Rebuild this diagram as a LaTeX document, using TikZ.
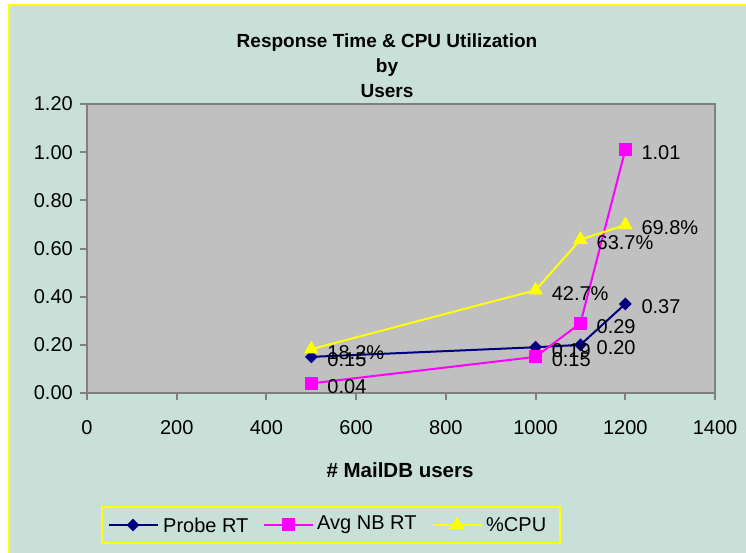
\documentclass[tikz,border=0pt]{standalone}
\usepackage{fontspec}
\setmainfont{Liberation Sans}
\usetikzlibrary{positioning,shapes.geometric}

\definecolor{chartbg}{HTML}{C8E0D8}
\definecolor{plotbg}{HTML}{C0C0C0}
\definecolor{axisgray}{HTML}{808080}
\definecolor{cpuyellow}{HTML}{FFFF00}
\definecolor{nbmagenta}{HTML}{FF00FF}
\definecolor{rtnavy}{HTML}{000080}

\begin{document}
\begin{tikzpicture}[x=1pt, y=1pt,
  numtext/.style={inner sep=0pt, font=\fontsize{20}{24}\selectfont},
  datalabel/.style={numtext, yshift=-3pt},
  titletext/.style={inner sep=0pt, anchor=base, font=\bfseries\fontsize{19}{23}\selectfont},
  axistitle/.style={titletext, font=\bfseries\fontsize{20.5}{24}\selectfont},
  axisline/.style={draw=axisgray, line width=2pt},
  rtline/.style={draw=rtnavy, line width=2pt},
  nbline/.style={draw=nbmagenta, line width=2pt},
  cpuline/.style={draw=cpuyellow, line width=2pt},
  rtmark/.style={diamond, fill=rtnavy, inner sep=0pt, minimum size=13pt},
  nbmark/.style={rectangle, fill=nbmagenta, inner sep=0pt, minimum size=13pt},
  cpumark/.style={regular polygon, regular polygon sides=3, fill=cpuyellow, inner sep=0pt, minimum size=17pt}]

\useasboundingbox (0,0) rectangle (746,553);
\fill[chartbg] (9,0) rectangle (746,548);
\draw[cpuyellow, line width=2pt] (9,0) -- (9,548) -- (746,548);

\node[titletext] (title1) at (387,505) {Response Time \& CPU Utilization};
\node[titletext] (title2) at (387,480) {by};
\node[titletext] (title3) at (387,455) {Users};

\fill[plotbg] (87,160) rectangle (715,449);
\draw[axisline] (87,160) rectangle (715,449);

\begin{scope}[shift={(87pt,160pt)}, x=0.448571pt, y=240.8pt]
\draw[axisline] (0,0) -- (-15.6,0) (0,0.2) -- (-15.6,0.2) (0,0.4) -- (-15.6,0.4)
  (0,0.6) -- (-15.6,0.6) (0,0.8) -- (-15.6,0.8) (0,1) -- (-15.6,1) (0,1.2) -- (-15.6,1.2);
\draw[axisline] (0,0) -- (0,-0.03) (200,0) -- (200,-0.03) (400,0) -- (400,-0.03)
  (600,0) -- (600,-0.03) (800,0) -- (800,-0.03) (1000,0) -- (1000,-0.03)
  (1200,0) -- (1200,-0.03) (1400,0) -- (1400,-0.03);

\node[numtext, anchor=east, xshift=-14pt] (ylab0) at (0,0) {0.00};
\node[numtext, anchor=east, xshift=-14pt] (ylab1) at (0,0.2) {0.20};
\node[numtext, anchor=east, xshift=-14pt] (ylab2) at (0,0.4) {0.40};
\node[numtext, anchor=east, xshift=-14pt] (ylab3) at (0,0.6) {0.60};
\node[numtext, anchor=east, xshift=-14pt] (ylab4) at (0,0.8) {0.80};
\node[numtext, anchor=east, xshift=-14pt] (ylab5) at (0,1) {1.00};
\node[numtext, anchor=east, xshift=-14pt] (ylab6) at (0,1.2) {1.20};

\node[numtext, anchor=base, yshift=-42pt] (xlab0) at (0,0) {0};
\node[numtext, anchor=base, yshift=-42pt] (xlab1) at (200,0) {200};
\node[numtext, anchor=base, yshift=-42pt] (xlab2) at (400,0) {400};
\node[numtext, anchor=base, yshift=-42pt] (xlab3) at (600,0) {600};
\node[numtext, anchor=base, yshift=-42pt] (xlab4) at (800,0) {800};
\node[numtext, anchor=base, yshift=-42pt] (xlab5) at (1000,0) {1000};
\node[numtext, anchor=base, yshift=-42pt] (xlab6) at (1200,0) {1200};
\node[numtext, anchor=base, yshift=-42pt] (xlab7) at (1400,0) {1400};

\coordinate (rt1) at (500,0.15);
\coordinate (rt2) at (1000,0.19);
\coordinate (rt3) at (1100,0.20);
\coordinate (rt4) at (1200,0.37);
\coordinate (nb1) at (500,0.04);
\coordinate (nb2) at (1000,0.15);
\coordinate (nb3) at (1100,0.29);
\coordinate (nb4) at (1200,1.01);
\coordinate (cpu1) at (500,0.182);
\coordinate (cpu2) at (1000,0.427);
\coordinate (cpu3) at (1100,0.637);
\coordinate (cpu4) at (1200,0.698);
\end{scope}

\draw[rtline] (rt1) -- (rt2) -- (rt3) -- (rt4);
\node[rtmark] (rt1m) at (rt1) {};
\node[rtmark] (rt2m) at (rt2) {};
\node[rtmark] (rt3m) at (rt3) {};
\node[rtmark] (rt4m) at (rt4) {};

\draw[nbline] (nb1) -- (nb2) -- (nb3) -- (nb4);
\node[nbmark] (nb1m) at (nb1) {};
\node[nbmark] (nb2m) at (nb2) {};
\node[nbmark] (nb3m) at (nb3) {};
\node[nbmark] (nb4m) at (nb4) {};

\draw[cpuline] (cpu1) -- (cpu2) -- (cpu3) -- (cpu4);
\node[cpumark] (cpu1m) at (cpu1) {};
\node[cpumark] (cpu2m) at (cpu2) {};
\node[cpumark] (cpu3m) at (cpu3) {};
\node[cpumark] (cpu4m) at (cpu4) {};

\node[datalabel, right=16pt of rt1] (rt1l) {0.15};
\node[datalabel, right=16pt of rt2] (rt2l) {0.19};
\node[datalabel, right=16pt of rt3] (rt3l) {0.20};
\node[datalabel, right=16pt of rt4] (rt4l) {0.37};
\node[datalabel, right=16pt of nb1] (nb1l) {0.04};
\node[datalabel, right=16pt of nb2] (nb2l) {0.15};
\node[datalabel, right=16pt of nb3] (nb3l) {0.29};
\node[datalabel, right=16pt of nb4] (nb4l) {1.01};
\node[datalabel, right=16pt of cpu1] (cpu1l) {18.2\%};
\node[datalabel, right=16pt of cpu2] (cpu2l) {42.7\%};
\node[datalabel, right=16pt of cpu3] (cpu3l) {63.7\%};
\node[datalabel, right=16pt of cpu4] (cpu4l) {69.8\%};

\node[axistitle] (xtitle) at (400,75) {\# MailDB users};

\node[draw=cpuyellow, line width=2.5pt, minimum width=458pt, minimum height=36pt, inner sep=0pt] (legend) at (331,28) {};
\coordinate (keyrt) at (133,28);
\coordinate (keynb) at (288,28);
\coordinate (keycpu) at (457,28);
\draw[rtline] ([xshift=-24pt]keyrt) -- ([xshift=25pt]keyrt);
\node[rtmark] (keyrtm) at (keyrt) {};
\node[numtext, right=30pt of keyrt] (keyrtl) {Probe RT};
\draw[nbline] ([xshift=-24pt]keynb) -- ([xshift=25pt]keynb);
\node[nbmark] (keynbm) at (keynb) {};
\node[numtext, right=29pt of keynb] (keynbl) {Avg NB RT};
\draw[cpuline] ([xshift=-24pt]keycpu) -- ([xshift=25pt]keycpu);
\node[cpumark] (keycpum) at (keycpu) {};
\node[numtext, right=29pt of keycpu] (keycpul) {\%CPU};

\end{tikzpicture}
\end{document}
